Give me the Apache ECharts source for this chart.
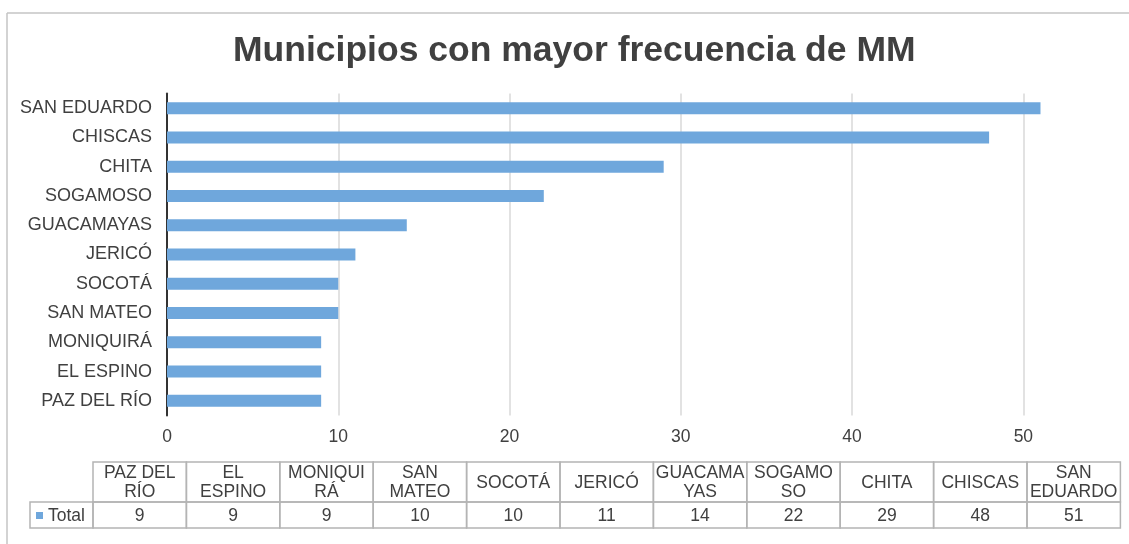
<!DOCTYPE html>
<html>
<head>
<meta charset="utf-8">
<title>Municipios con mayor frecuencia de MM</title>
<script src="https://cdn.jsdelivr.net/npm/echarts@6.0.0/dist/echarts.min.js"></script>
<style>
  html, body { margin: 0; padding: 0; background: #fff; }
  #main { width: 1129px; height: 544px; }
</style>
</head>
<body>
<div id="main"></div>
<script type="text/javascript">
// datos (de abajo hacia arriba en el grafico, igual que la tabla)
var municipios = ['PAZ DEL RÍO', 'EL ESPINO', 'MONIQUIRÁ', 'SAN MATEO', 'SOCOTÁ', 'JERICÓ', 'GUACAMAYAS', 'SOGAMOSO', 'CHITA', 'CHISCAS', 'SAN EDUARDO'];
var totales = [9, 9, 9, 10, 10, 11, 14, 22, 29, 48, 51];
// encabezados de la tabla tal como se parten en la imagen
var encabezados = ['PAZ DEL\nRÍO', 'EL\nESPINO', 'MONIQUI\nRÁ', 'SAN\nMATEO', 'SOCOTÁ', 'JERICÓ', 'GUACAMA\nYAS', 'SOGAMO\nSO', 'CHITA', 'CHISCAS', 'SAN\nEDUARDO'];
var serieNombre = 'Total';

var fuente = '"Liberation Sans", Arial, sans-serif';
var texto = '#404040';
var azul = '#6fa7dc';
var borde = '#b4b4b4';

// tabla de datos dibujada debajo del eje
var tx0 = 93, colW = 93.4, rowTop = 462, rowMid = 502, rowBot = 528, totalX = 30;
var tabla = [];
for (var i = 0; i < municipios.length; i++) {
    var x = tx0 + i * colW;
    tabla.push({
        type: 'rect',
        shape: { x: x, y: rowTop, width: colW, height: rowMid - rowTop },
        style: { fill: 'none', stroke: borde, lineWidth: 1.5 }
    });
    tabla.push({
        type: 'rect',
        shape: { x: x, y: rowMid, width: colW, height: rowBot - rowMid },
        style: { fill: 'none', stroke: borde, lineWidth: 1.5 }
    });
    tabla.push({
        type: 'text',
        x: x + colW / 2, y: (rowTop + rowMid) / 2 + 1,
        style: { text: encabezados[i], align: 'center', verticalAlign: 'middle', lineHeight: 19,
                 font: '17.5px ' + fuente, fill: texto }
    });
    tabla.push({
        type: 'text',
        x: x + colW / 2, y: (rowMid + rowBot) / 2 + 1,
        style: { text: String(totales[i]), align: 'center', verticalAlign: 'middle',
                 font: '17.5px ' + fuente, fill: texto }
    });
}
tabla.push({
    type: 'rect',
    shape: { x: totalX, y: rowMid, width: tx0 - totalX, height: rowBot - rowMid },
    style: { fill: 'none', stroke: borde, lineWidth: 1.5 }
});
tabla.push({
    type: 'rect',
    shape: { x: 36, y: 512, width: 7, height: 7 },
    style: { fill: azul }
});
tabla.push({
    type: 'text',
    x: 48, y: (rowMid + rowBot) / 2 + 1,
    style: { text: serieNombre, align: 'left', verticalAlign: 'middle',
             font: '17.5px ' + fuente, fill: texto }
});
// marco del grafico
tabla.push({ type: 'line', shape: { x1: 7, y1: 13, x2: 1129, y2: 13 }, style: { stroke: '#c4c4c4', lineWidth: 1.5 } });
tabla.push({ type: 'line', shape: { x1: 7, y1: 13, x2: 7, y2: 544 }, style: { stroke: '#c4c4c4', lineWidth: 1.5 } });

var myChart = echarts.init(document.getElementById('main'));
myChart.setOption({
    animation: false,
    backgroundColor: '#fff',
    textStyle: { fontFamily: fuente },
    title: {
        text: 'Municipios con mayor frecuencia de MM',
        left: 233,
        top: 33,
        padding: 0,
        textStyle: { fontSize: 35.5, fontWeight: 'bold', color: texto, fontFamily: fuente }
    },
    grid: {
        left: 167,
        right: 20,
        top: 93.5,
        height: 322,
        containLabel: false
    },
    xAxis: {
        type: 'value',
        min: 0,
        max: 55,
        interval: 10,
        axisLine: { show: false },
        axisTick: { show: false },
        splitLine: { show: true, showMaxLine: false, lineStyle: { color: '#d9d9d9', width: 1.5 } },
        axisLabel: { fontSize: 17.5, color: texto, margin: 13, showMaxLabel: false, fontFamily: fuente }
    },
    yAxis: {
        type: 'category',
        data: municipios,
        axisLine: { show: true, lineStyle: { color: '#333333', width: 2 } },
        axisTick: { show: false },
        axisLabel: { fontSize: 18, color: texto, margin: 15, fontFamily: fuente }
    },
    series: [{
        name: serieNombre,
        type: 'bar',
        data: totales,
        barWidth: 12,
        itemStyle: { color: azul }
    }],
    graphic: tabla
});
</script>
</body>
</html>
